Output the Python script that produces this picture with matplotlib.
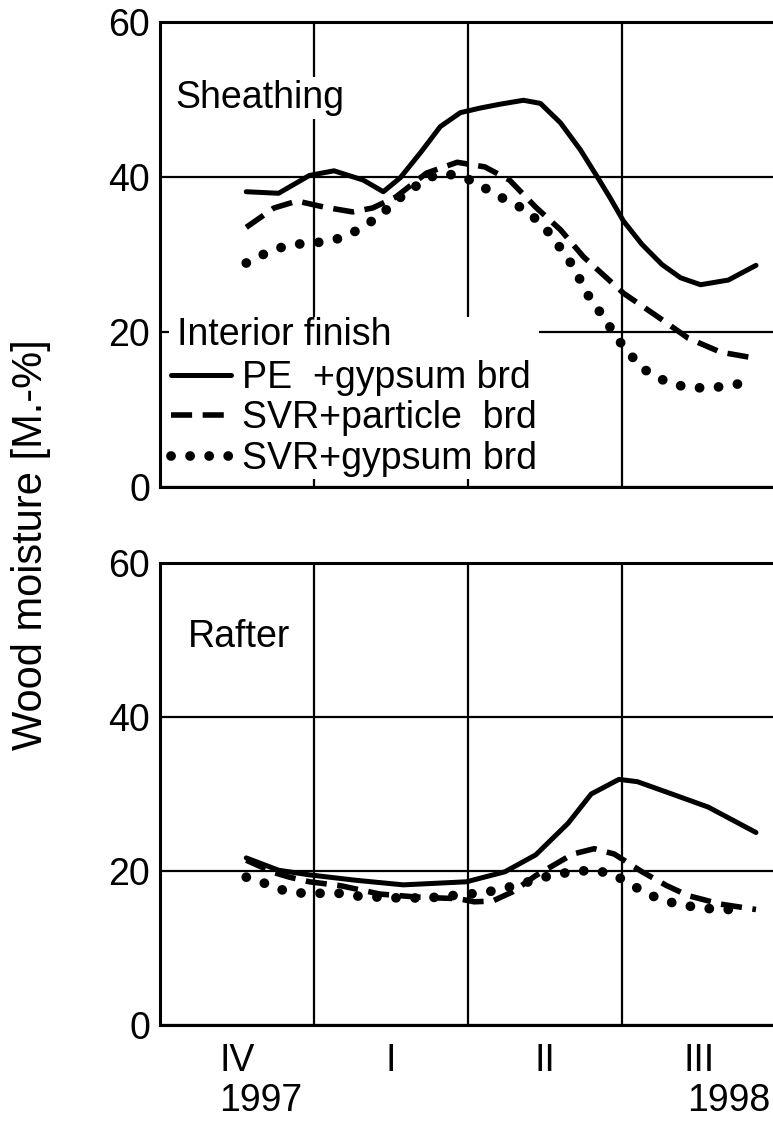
import numpy as np
import matplotlib
matplotlib.use("Agg")
import matplotlib.pyplot as plt

plt.rcParams['font.family'] = ['Liberation Sans', 'DejaVu Sans']

# x in quarter units (0 = start of IV/1997, 4 = end of III/1998)
quarters = ["IV", "I", "II", "III"]
years = ["1997", "1998"]
labels = ["PE  +gypsum brd", "SVR+particle  brd", "SVR+gypsum brd"]

# Sheathing
sh_pe_x = [0.56, 0.77, 0.97, 1.13, 1.32, 1.45, 1.56, 1.69, 1.82, 1.95, 2.08, 2.21,
           2.36, 2.47, 2.60, 2.73, 2.84, 2.92, 3.01, 3.13, 3.26, 3.38, 3.51, 3.69, 3.87]
sh_pe_y = [38.1, 37.9, 40.2, 40.8, 39.6, 38.1, 39.9, 43.1, 46.5, 48.3, 48.9, 49.4,
           49.9, 49.5, 47.0, 43.5, 40.0, 37.4, 34.3, 31.3, 28.7, 27.0, 26.1, 26.7, 28.6]
sh_pa_x = [0.56, 0.74, 0.89, 1.07, 1.25, 1.38, 1.53, 1.73, 1.93, 2.11, 2.27, 2.44,
           2.60, 2.75, 3.01, 3.23, 3.43, 3.64, 3.87]
sh_pa_y = [33.5, 36.0, 36.9, 36.1, 35.5, 36.0, 37.4, 40.5, 41.9, 41.3, 39.6, 36.1,
           33.2, 29.7, 25.0, 22.0, 19.2, 17.4, 16.6]
sh_gy_x = [0.56, 0.69, 0.80, 0.92, 1.05, 1.17, 1.29, 1.39, 1.49, 1.58, 1.69, 1.79,
           1.92, 2.04, 2.15, 2.25, 2.38, 2.47, 2.55, 2.62, 2.69, 2.75, 2.81, 2.89,
           2.95, 3.03, 3.12, 3.22, 3.34, 3.46, 3.59, 3.72, 3.83]
sh_gy_y = [28.9, 30.2, 31.0, 31.4, 31.6, 32.1, 33.2, 34.5, 36.1, 37.7, 39.2, 40.3,
           40.3, 39.4, 38.1, 37.0, 35.7, 34.0, 32.3, 30.2, 28.3, 25.8, 23.7, 21.8,
           19.6, 17.7, 15.5, 14.2, 13.2, 12.8, 12.8, 13.2, 13.5]

# Rafter
ra_pe_x = [0.56, 0.77, 0.97, 1.27, 1.58, 1.99, 2.24, 2.44, 2.65, 2.80, 2.98, 3.10,
           3.31, 3.56, 3.87]
ra_pe_y = [21.7, 20.1, 19.5, 18.8, 18.2, 18.6, 19.9, 22.1, 26.2, 30.0, 31.9, 31.6,
           30.1, 28.3, 25.0]
ra_pa_x = [0.56, 0.74, 0.84, 0.97, 1.17, 1.43, 1.68, 1.94, 2.04, 2.16, 2.29, 2.44,
           2.68, 2.82, 2.95, 3.13, 3.29, 3.43, 3.64, 3.87]
ra_pa_y = [21.4, 19.8, 19.2, 18.6, 18.1, 17.0, 16.6, 16.4, 16.0, 16.1, 17.3, 19.4,
           22.2, 22.9, 22.2, 19.9, 18.1, 16.8, 15.7, 15.0]
ra_gy_x = [0.56, 0.68, 0.80, 0.93, 1.05, 1.17, 1.30, 1.43, 1.55, 1.68, 1.81, 1.94,
           2.06, 2.19, 2.32, 2.43, 2.55, 2.68, 2.80, 2.93, 3.03, 3.14, 3.26, 3.39,
           3.51, 3.64, 3.77]
ra_gy_y = [19.2, 18.4, 17.5, 17.1, 17.1, 17.1, 16.7, 16.6, 16.5, 16.5, 16.6, 16.9,
           17.1, 17.5, 18.2, 18.8, 19.5, 19.9, 20.1, 19.7, 18.6, 17.3, 16.2, 15.6,
           15.2, 15.0, 15.0]

FS = 27
W, H = 773, 1122
fig = plt.figure(figsize=(W / 100, H / 100), dpi=100)

ax1 = fig.add_axes([160 / W, 1 - 487 / H, 616 / W, 465 / H])
ax2 = fig.add_axes([160 / W, 1 - 1025 / H, 616 / W, 462 / H])

styles = [
    dict(color='black', lw=3.6, linestyle='-', solid_capstyle='round',
         solid_joinstyle='round'),
    dict(color='black', lw=4.0, linestyle=(0, (3.8, 1.9)), dash_capstyle='butt'),
    dict(color='black', lw=7.0, linestyle=(0, (0.01, 1.95)), dash_capstyle='round'),
]

for ax, series in [(ax1, [(sh_pe_x, sh_pe_y), (sh_pa_x, sh_pa_y), (sh_gy_x, sh_gy_y)]),
                   (ax2, [(ra_pe_x, ra_pe_y), (ra_pa_x, ra_pa_y), (ra_gy_x, ra_gy_y)])]:
    for (x, y), st, lab in zip(series, styles, labels):
        ax.plot(x, y, label=lab, **st)
    ax.set_xlim(0, 4)
    ax.set_ylim(0, 60)
    ax.set_yticks([0, 20, 40, 60])
    ax.set_xticks([1, 2, 3])
    ax.set_xticklabels([])
    ax.grid(True, color='black', lw=1.6)
    ax.set_axisbelow(True)
    ax.tick_params(axis='both', length=0, labelsize=FS, pad=7)
    ax.tick_params(axis='x', which='minor', length=0, labelsize=FS, pad=13)
    for s in ['left', 'top', 'bottom']:
        ax.spines[s].set_linewidth(2.2)
    ax.spines['right'].set_visible(False)
    ax.set_xticks([0.5, 1.5, 2.5, 3.5], minor=True)
    ax.set_xticklabels([], minor=True)

ax2.set_xticklabels(quarters, minor=True)

ax1.text(0.1, 50.2, "Sheathing", fontsize=FS, va='center', ha='left',
         bbox=dict(facecolor='white', edgecolor='none', pad=2))
ax2.text(0.18, 50.4, "Rafter", fontsize=FS, va='center', ha='left')

leg = ax1.legend(title="Interior finish", loc='upper left', bbox_to_anchor=(0.015, 0.365),
                 fontsize=FS, title_fontsize=FS, frameon=True, facecolor='white',
                 edgecolor='none', framealpha=1, fancybox=False, borderpad=0.05,
                 borderaxespad=0, handlelength=1.6, handletextpad=0.3,
                 labelspacing=0.12, alignment='left')
leg.set_zorder(2.3)
leg.get_title().set_position((6, 2))

fig.text(261 / W, 1 - 1101 / H, years[0], fontsize=FS, ha='center', va='center')
fig.text(729 / W, 1 - 1101 / H, years[1], fontsize=FS, ha='center', va='center')
fig.text(31 / W, 1 - 545 / H, "Wood moisture [M.-%]", fontsize=FS + 3, rotation=90,
         ha='center', va='center')

fig.savefig("out.png", dpi=100)
